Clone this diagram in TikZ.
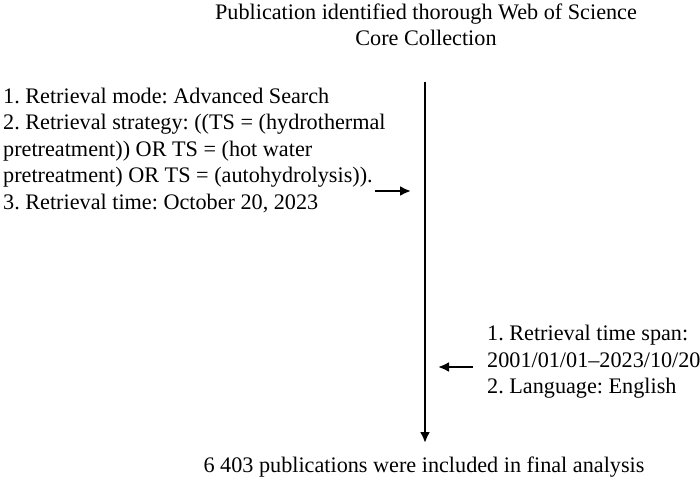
\documentclass[tikz,border=0pt]{standalone}
\usepackage{fontspec}
\setmainfont{Liberation Serif}
\frenchspacing
\usetikzlibrary{arrows.meta}
\tikzset{flow/.style={line width=2.4pt, -{Latex[length=11pt,width=10pt]}}}
\tikzset{txt/.style={inner sep=0pt, font=\fontsize{22.2}{26.5}\selectfont}}

\begin{document}
\begin{tikzpicture}[x=1pt, y=-1pt]
      \useasboundingbox (0, 0) rectangle (700, 480);

      \node [txt, align=center] (src) at (426, 25) {Publication identified thorough Web of Science\\Core Collection};
      \node [txt, align=left, anchor=west] (query) at (3, 150) {1. Retrieval mode: Advanced Search\\2. Retrieval strategy: ((TS = (hydrothermal\\pretreatment)) OR TS = (hot water\\pretreatment) OR TS = (autohydrolysis)).\\3. Retrieval time: October 20, 2023};
      \node [txt, align=left, anchor=west] (limits) at (487, 362) {1. Retrieval time span:\\2001/01/01--2023/10/20\\2. Language: English};
      \node [txt] (final) at (424, 467) {6 403 publications were included in final analysis};

      \coordinate (top) at (425, 82);
      \coordinate (bot) at (425, 443);
      \draw [flow] (top) -- (bot);

      \coordinate (qa) at (375, 191);
      \draw [flow, shorten >=14pt] (qa) -- (qa -| top);

      \coordinate (la) at (473, 367);
      \draw [flow, shorten >=13pt] (la) -- (la -| top);
    \end{tikzpicture}
\end{document}
